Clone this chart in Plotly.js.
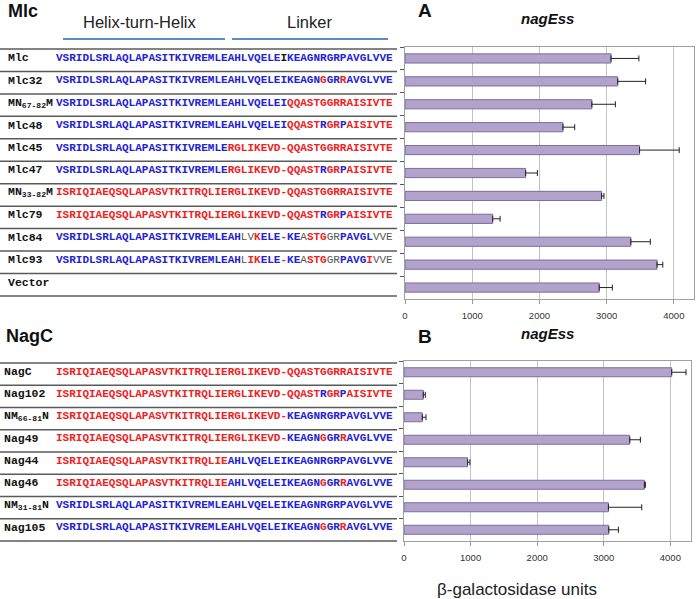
<!DOCTYPE html>
<html><head><meta charset="utf-8">
<script src="https://cdn.plot.ly/plotly-3.0.1.min.js"></script>
<style>html,body{margin:0;padding:0;background:#fff}#chart{width:696px;height:599px}</style>
</head><body><div id="chart"></div>
<script>
// ---------- data ----------
const categoriesA = ["Mlc","Mlc32","MN67-82M","Mlc48","Mlc45","Mlc47","MN33-82M","Mlc79","Mlc84","Mlc93","Vector"];
const labelsA = ["Mlc","Mlc32","MN<sub>67-82</sub>M","Mlc48","Mlc45","Mlc47","MN<sub>33-82</sub>M","Mlc79","Mlc84","Mlc93","Vector"];
const valuesA = [3065,3165,2780,2350,3490,1795,2925,1305,3360,3750,2890];
const errorsA = [415,415,350,175,590,175,35,110,290,85,195];

const categoriesB = ["NagC","Nag102","NM66-81N","Nag49","Nag44","Nag46","NM31-81N","Nag105"];
const labelsB = ["NagC","Nag102","NM<sub>66-81</sub>N","Nag49","Nag44","Nag46","NM<sub>31-81</sub>N","Nag105"];
const valuesB = [4020,290,275,3390,955,3610,3070,3075];
const errorsB = [215,30,55,160,35,15,500,145];

const xTicks = [0,1000,2000,3000,4000];

// sequence segments: b = blue, r = red, k = black, g = grey (plain)
const seqA = [
 [["VSRIDLSRLAQLAPASITKIVREMLEAHLVQELE","b"],["I","k"],["KEAGNRGRPAVGLVVE","b"]],
 [["VSRIDLSRLAQLAPASITKIVREMLEAHLVQELEIKEAGN","b"],["G","r"],["GR","b"],["R","r"],["AVGLVVE","b"]],
 [["VSRIDLSRLAQLAPASITKIVREMLEAHLVQELEI","b"],["QQASTGGRRAISIVTE","r"]],
 [["VSRIDLSRLAQLAPASITKIVREMLEAHLVQELEI","b"],["QQAST","r"],["R","b"],["GR","r"],["P","b"],["AISIVTE","r"]],
 [["VSRIDLSRLAQLAPASITKIVREMLE","b"],["RGLIKEVD-QQASTGGRRAISIVTE","r"]],
 [["VSRIDLSRLAQLAPASITKIVREMLE","b"],["RGLIKEVD-QQAST","r"],["R","b"],["GR","r"],["P","b"],["AISIVTE","r"]],
 [["ISRIQIAEQSQLAPASVTKITRQLIERGLIKEVD-QQASTGGRRAISIVTE","r"]],
 [["ISRIQIAEQSQLAPASVTKITRQLIERGLIKEVD-QQAST","r"],["R","b"],["GR","r"],["P","b"],["AISIVTE","r"]],
 [["VSRIDLSRLAQLAPASITKIVREMLEAH","b"],["LV","g"],["K","r"],["ELE","b"],["-","r"],["KE","b"],["A","g"],["STG","r"],["GR","g"],["PAVGL","b"],["VVE","g"]],
 [["VSRIDLSRLAQLAPASITKIVREMLEAH","b"],["L","g"],["IK","r"],["ELE","b"],["-","r"],["KE","b"],["A","g"],["STG","r"],["GR","g"],["PAVG","b"],["I","r"],["VVE","g"]],
 []
];
const seqB = [
 [["ISRIQIAEQSQLAPASVTKITRQLIERGLIKEVD-QQASTGGRRAISIVTE","r"]],
 [["ISRIQIAEQSQLAPASVTKITRQLIERGLIKEVD-QQAST","r"],["R","b"],["GR","r"],["P","b"],["AISIVTE","r"]],
 [["ISRIQIAEQSQLAPASVTKITRQLIERGLIKEVD-","r"],["KEAGNRGRPAVGLVVE","b"]],
 [["ISRIQIAEQSQLAPASVTKITRQLIERGLIKEVD-","r"],["KEAGN","b"],["G","r"],["GR","b"],["R","r"],["AVGLVVE","b"]],
 [["ISRIQIAEQSQLAPASVTKITRQLIE","r"],["AHLVQELEIKEAGNRGRPAVGLVVE","b"]],
 [["ISRIQIAEQSQLAPASVTKITRQLIE","r"],["AHLVQELEIKEAGN","b"],["G","r"],["GR","b"],["R","r"],["AVGLVVE","b"]],
 [["VSRIDLSRLAQLAPASITKIVREMLEAHLVQELEIKEAGNRGRPAVGLVVE","b"]],
 [["VSRIDLSRLAQLAPASITKIVREMLEAHLVQELEIKEAGN","b"],["G","r"],["GR","b"],["R","r"],["AVGLVVE","b"]]
];

// ---------- styling / layout ----------
const W = 696, H = 599;
const px = x => x / W, py = y => 1 - y / H;
const COL = {b:"#2222d6", r:"#ee2222", k:"#111111", g:"#555555"};
function seqHTML(segs){
  return segs.map(([t,c]) => c === "g"
    ? `<span style="color:${COL[c]}">${t}</span>`
    : `<b><span style="color:${COL[c]}">${t}</span></b>`).join("");
}

const barStyle = {color:"#b2a3cc", line:{color:"#7d6c9c", width:1}};
const errStyle = {type:"data", symmetric:false, color:"#222", thickness:1, width:3};

const traces = [
 {type:"bar", orientation:"h", y:categoriesA, x:valuesA, xaxis:"x", yaxis:"y",
  marker:barStyle, error_x:Object.assign({array:errorsA, arrayminus:errorsA.map(()=>0)}, errStyle),
  hoverinfo:"skip", showlegend:false},
 {type:"bar", orientation:"h", y:categoriesB, x:valuesB, xaxis:"x2", yaxis:"y2",
  marker:barStyle, error_x:Object.assign({array:errorsB, arrayminus:errorsB.map(()=>0)}, errStyle),
  hoverinfo:"skip", showlegend:false}
];

const xCommon = {tickvals:xTicks, ticks:"outside", ticklen:4, tickcolor:"#999",
  showgrid:true, gridcolor:"#c4c4c4", gridwidth:1, zeroline:false,
  showline:true, mirror:true, linecolor:"#a0a0a0", linewidth:1,
  tickfont:{family:"Liberation Sans, Arial", size:9.5, color:"#333"}, ticklabelstandoff:4, fixedrange:true};
const yCommon = {type:"category", autorange:"reversed", showticklabels:false,
  ticks:"outside", tickson:"boundaries", ticklen:4, tickcolor:"#555",
  showgrid:false, zeroline:false, showline:true, mirror:true, linecolor:"#a0a0a0", linewidth:1, fixedrange:true};

const annotations = [];
const shapes = [];
const sansB = {family:"Liberation Sans, Arial", size:18, color:"#111", weight:"bold"};
function ann(text, x, y, font, xa, ya){
  annotations.push({text, x:px(x), y:py(y), xref:"paper", yref:"paper", showarrow:false,
    xanchor:xa||"center", yanchor:ya||"middle", font});
}
ann("Mlc", 6, 11, sansB, "left");
ann("NagC", 4, 336, sansB, "left");
ann("A", 425, 10, Object.assign({}, sansB, {size:19}));
ann("B", 425, 336, Object.assign({}, sansB, {size:19}));
ann("<i>nagEss</i>", 547, 19, {family:"Liberation Sans, Arial", size:15, color:"#111", weight:"bold"});
ann("<i>nagEss</i>", 547, 333, {family:"Liberation Sans, Arial", size:15, color:"#111", weight:"bold"});
ann("Helix-turn-Helix", 140, 22, {family:"Liberation Sans, Arial", size:16.5, color:"#222"});
ann("Linker", 309, 22, {family:"Liberation Sans, Arial", size:16.5, color:"#222"});
ann("β-galactosidase units", 517, 589, {family:"Liberation Sans, Arial", size:17, color:"#222"});

shapes.push({type:"line", xref:"paper", yref:"paper", x0:px(63), x1:px(225), y0:py(39), y1:py(39), line:{color:"#5b8ac6", width:2}});
shapes.push({type:"line", xref:"paper", yref:"paper", x0:px(232), x1:px(388), y0:py(39), y1:py(39), line:{color:"#5b8ac6", width:2}});

const monoB = {family:"Liberation Mono, Courier New, monospace", size:11, color:"#111"};
const monoL = {family:"Liberation Mono, Courier New, monospace", size:11.5, color:"#111"};
function table(labels, seqs, top, rowH, labelX){
  for (let k = 0; k <= labels.length; k++){
    const y = top + rowH * k;
    shapes.push({type:"line", xref:"paper", yref:"paper", x0:0, x1:px(397), y0:py(y), y1:py(y), line:{color:"#5a5a5a", width:1.5}});
  }
  labels.forEach((lab, i) => {
    const yc = top + rowH * (i + 0.5) - 2.5;
    ann(`<b>${lab}</b>`, labelX, yc, monoL, "left");
    if (seqs[i].length) ann(seqHTML(seqs[i]), 54, yc, monoB, "left");
  });
}
table(labelsA, seqA, 49, 22.45, 6);
table(labelsB, seqB, 363, 22.25, 2);

const layout = {
  width:W, height:H, margin:{l:0,r:0,t:0,b:0}, paper_bgcolor:"#fff", plot_bgcolor:"#fff",
  bargap:0.6, showlegend:false,
  xaxis:Object.assign({}, xCommon, {domain:[px(405), px(694)], range:[0,4300], anchor:"y"}),
  yaxis:Object.assign({}, yCommon, {domain:[py(299), py(47)], anchor:"x"}),
  xaxis2:Object.assign({}, xCommon, {domain:[px(404), px(691)], range:[0,4310], anchor:"y2"}),
  yaxis2:Object.assign({}, yCommon, {domain:[py(541), py(361)], anchor:"x2"}),
  annotations, shapes
};
Plotly.newPlot("chart", traces, layout, {displayModeBar:false, staticPlot:true});
</script>
</body></html>
